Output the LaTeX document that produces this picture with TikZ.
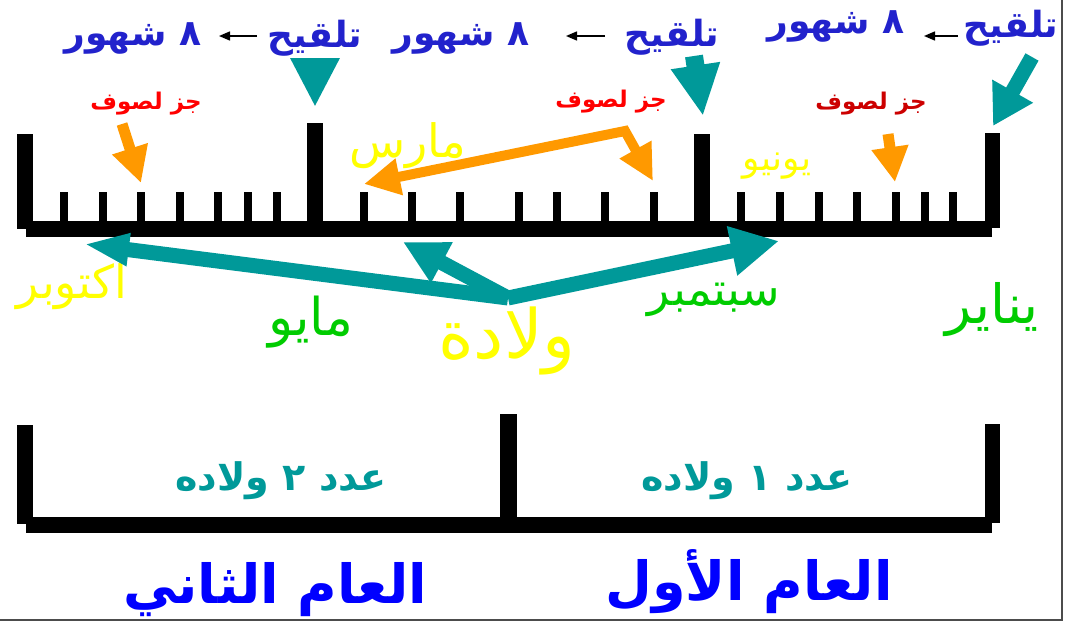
\documentclass[tikz,border=0pt]{standalone}
\usepackage{fontspec}
\newfontfamily\arabicfont[Script=Arabic]{DejaVu Sans}
\TeXXeTstate=1
\usetikzlibrary{arrows.meta,positioning}
\definecolor{tealblue}{RGB}{0,153,153}
\definecolor{woolorange}{RGB}{255,153,0}
\definecolor{shearred}{RGB}{255,0,0}
\definecolor{sheardark}{RGB}{204,0,0}
\definecolor{monthyellow}{RGB}{255,255,0}
\definecolor{monthgreen}{RGB}{0,204,0}
\definecolor{topblue}{RGB}{34,34,204}
\definecolor{yearblue}{RGB}{0,0,255}

\begin{document}
\begin{tikzpicture}[x=1pt,y=-1pt,
  artext/.style={font=\arabicfont,inner sep=0pt},
  mating/.style={artext,text=topblue,font=\arabicfont\bfseries\fontsize{36}{40}\selectfont},
  shearing/.style={artext,text=shearred,font=\arabicfont\bfseries\fontsize{23}{26}\selectfont},
  month/.style={artext,font=\arabicfont\fontsize{46}{50}\selectfont},
  births/.style={artext,text=tealblue,font=\arabicfont\bfseries\fontsize{38}{42}\selectfont},
  year/.style={artext,text=yearblue,font=\arabicfont\bfseries\fontsize{54}{60}\selectfont},
  smallarrow/.style={draw=black,line width=1.5pt,-{Triangle[length=11pt,width=9pt]}},
  tealarrow/.style={draw=tealblue,line width=15pt},
  woolarrow/.style={draw=woolorange,line width=11pt}]
\useasboundingbox (0,0) rectangle (1065,621);

% upper time line
\fill (17,134) rectangle (33,229);
\fill (26,221) rectangle (992,237);
\fill (985,133) rectangle (1000,228);
\fill (307,123) rectangle (323,225);
\fill (694,134) rectangle (710,225);
\foreach \t in {64,103,141,180,218,248,277,364,412,460,519,557,605,654,741,780,819,857,896,925,953}
  \fill (\t-4,192) rectangle (\t+4,225);

% lower bracket
\fill (17,425) rectangle (33,524);
\fill (26,517) rectangle (992,533);
\fill (500,414) rectangle (517,520);
\fill (985,424) rectangle (1000,523);

% slide frame
\draw[black!70,line width=2pt] (0,620) -- (1062,620) -- (1062,0);

% mating line
\node[mating] (mate1) at (1011,28) {\beginR تلقيح\endR};
\node[mating] (gest1) at (836,26) {\beginR ٨ شهور\endR};
\node[mating] (mate2) at (672,37) {\beginR تلقيح\endR};
\node[mating] (gest2) at (461,38) {\beginR ٨ شهور\endR};
\node[mating] (mate3) at (315,38) {\beginR تلقيح\endR};
\node[mating] (gest3) at (133,38) {\beginR ٨ شهور\endR};
\draw[smallarrow] (958,36) -- (924,36);
\draw[smallarrow] (605,36) -- (566,36);
\draw[smallarrow] (257,36) -- (219,36);

\coordinate (tip1) at (993,126);
\coordinate (tip2) at (703,116);
\coordinate (tip3) at (315,107);
\draw[tealarrow,-{Triangle[length=40pt,width=44pt]}] (1032,57) -- (tip1);
\draw[tealarrow,line width=18pt,-{Triangle[length=51pt,width=46pt]}] (694,56) -- (tip2);
\draw[tealarrow,-{Triangle[length=49pt,width=46pt]}] (315,58) -- (tip3);

% wool shearing
\node[shearing] (shear1) at (146,104) {\beginR جز لصوف\endR};
\node[shearing] (shear2) at (611,102) {\beginR جز لصوف\endR};
\node[shearing,text=sheardark] (shear3) at (871,104) {\beginR جز لصوف\endR};
\coordinate (wool1) at (141,183);
\coordinate (wool2a) at (364,184);
\coordinate (wool2b) at (653,181);
\coordinate (wool3) at (895,182);
\draw[woolarrow,-{Triangle[length=36pt,width=35pt]}] (122,124) -- (wool1);
\draw[woolarrow,line width=10pt,{Triangle[length=36pt,width=35pt]}-{Triangle[length=36pt,width=34pt]}]
  (wool2a) -- (625,131) -- (wool2b);
\draw[woolarrow,-{Triangle[length=35pt,width=35pt]}] (888,134) -- (wool3);

% months
\node[month,text=monthyellow] (mar) at (408,146) {\beginR مارس\endR};
\node[month,text=monthyellow,font=\arabicfont\fontsize{36}{40}\selectfont] (jun) at (777,166) {\beginR يونيو\endR};
\node[month,text=monthyellow] (oct) at (72,287) {\beginR اكتوبر\endR};
\node[month,text=monthgreen,font=\arabicfont\fontsize{52}{56}\selectfont] (may) at (311,322) {\beginR مايو\endR};
\node[month,text=monthgreen] (sep) at (714,300) {\beginR سبتمبر\endR};
\node[month,text=monthgreen,font=\arabicfont\fontsize{54}{58}\selectfont] (jan) at (992,310) {\beginR يناير\endR};
\node[month,text=monthyellow,font=\arabicfont\fontsize{68}{74}\selectfont] (birth) at (507,341) {\beginR ولادة\endR};

% births
\coordinate (src) at (508,298);
\coordinate (octtip) at (84,244);
\coordinate (maytip) at (403,242);
\coordinate (septip) at (779,241);
\draw[tealarrow,-{Triangle[length=45pt,width=30pt]}] (src) -- (octtip);
\draw[tealarrow,-{Triangle[length=44pt,width=43pt]}] (src) -- (maytip);
\draw[tealarrow,-{Triangle[length=48pt,width=47pt]}] (src) -- (septip);

% lambing counts and years
\node[births] (count2) at (281,481) {\beginR عدد ٢ ولاده\endR};
\node[births] (count1) at (747,481) {\beginR عدد ١ ولاده\endR};
\node[year] (year2) at (275,590) {\beginR العام الثاني\endR};
\node[year] (year1) at (749,582) {\beginR العام الأول\endR};
\end{tikzpicture}
\end{document}
